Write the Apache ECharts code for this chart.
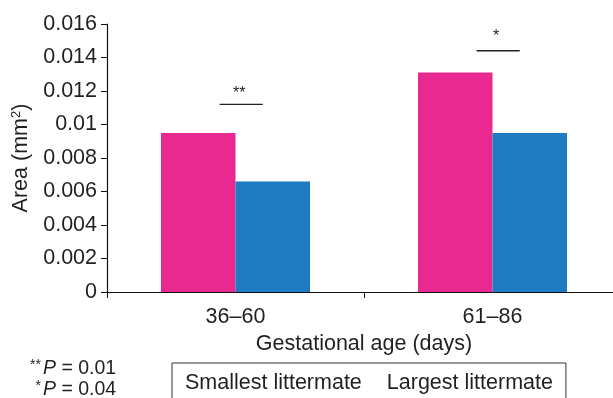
<!DOCTYPE html>
<html>
<head>
<meta charset="utf-8">
<script src="https://cdn.jsdelivr.net/npm/echarts@6/dist/echarts.min.js"></script>
<style>html,body{margin:0;padding:0;background:#fff;}#c{width:613px;height:398px;}</style>
</head>
<body>
<div id="c"></div>
<script>
const categories = ['36–60', '61–86'];
const smallest = [0.0095, 0.0131];
const largest = [0.0066, 0.0095];
const yTicks = ['0', '0.002', '0.004', '0.006', '0.008', '0.01', '0.012', '0.014', '0.016'];
const sigMarks = ['**', '*'];
const sigLevels = [0.0112, 0.0144];
const footnotes = [['**', 'P', ' = 0.01'], ['*', 'P', ' = 0.04']];

const FONT = 'Liberation Sans, Arial, Helvetica, sans-serif';
const TXT = '#231f20';
const FS = 21.5;
const chart = echarts.init(document.getElementById('c'), null, {renderer: 'canvas'});

const sigData = sigLevels.map((v, i) => [i, v, sigMarks[i]]);

const option = {
  animation: false,
  textStyle: {fontFamily: FONT, color: TXT},
  grid: {left: 107, top: 24, width: 514, height: 268, containLabel: false, outerBoundsMode: 'none'},
  legend: {
    data: ['Smallest littermate', 'Largest littermate'],
    left: 172, top: 363,
    padding: [9, 13, 40, 8],
    itemWidth: 0, itemHeight: 0, itemGap: 20,
    icon: 'rect',
    borderColor: '#333', borderWidth: 1,
    textStyle: {fontFamily: FONT, fontSize: FS, color: TXT}
  },
  xAxis: {
    type: 'category', data: categories,
    axisLine: {lineStyle: {color: '#111', width: 1.2}},
    axisTick: {show: true, length: 6, inside: false, lineStyle: {color: '#111'}},
    axisLabel: {fontFamily: FONT, fontSize: FS, color: TXT, margin: 14},
    name: 'Gestational age (days)', nameLocation: 'middle', nameGap: 40,
    nameTextStyle: {fontFamily: FONT, fontSize: FS, color: TXT}
  },
  yAxis: {
    type: 'value', min: 0, max: 0.016, interval: 0.002,
    axisLine: {show: true, lineStyle: {color: '#111', width: 1.2}},
    axisTick: {show: true, length: 6, lineStyle: {color: '#111'}},
    splitLine: {show: false},
    axisLabel: {fontFamily: FONT, fontSize: FS, color: TXT, margin: 10,
      formatter: (v, idx) => yTicks[idx]},
    name: '{n|Area (mm}{s|2}{n|)}', nameLocation: 'middle', nameGap: 74, nameRotate: 90,
    nameTextStyle: {fontFamily: FONT, fontSize: FS, color: TXT,
      rich: {n: {fontFamily: FONT, fontSize: FS, color: TXT},
             s: {fontFamily: FONT, fontSize: 13, color: TXT, verticalAlign: 'top', padding: [0, 0, 8, 0]}}}
  },
  series: [
    {name: 'Smallest littermate', type: 'bar', data: smallest, barWidth: 74.5, barGap: '0%',
     itemStyle: {color: '#E9298F'}},
    {name: 'Largest littermate', type: 'bar', data: largest, barWidth: 74.5, barGap: '0%',
     itemStyle: {color: '#1F7BC1'}},
    {type: 'custom', data: sigData, z: 10, silent: true,
     renderItem: function (params, api) {
       const p = api.coord([api.value(0), api.value(1)]);
       const bw = api.size([1, 0])[0];
       const cx = p[0] + bw * 0.022;
       const hw = bw * 0.084;
       return {type: 'group', children: [
         {type: 'line', shape: {x1: cx - hw, y1: p[1], x2: cx + hw, y2: p[1]},
          style: {stroke: '#222', lineWidth: 1.4}},
         {type: 'text', style: {text: sigData[params.dataIndex][2], x: cx - 2, y: p[1] - 3 - params.dataIndex * 3,
          align: 'center', verticalAlign: 'bottom', fontSize: 16, fontFamily: FONT, fill: TXT}}
       ]};
     }}
  ],
  graphic: footnotes.flatMap((f, i) => [
    {type: 'text', style: {text: f[0], x: 41, y: 369 + i * 21, align: 'right', verticalAlign: 'middle',
      fontSize: 14, fontFamily: FONT, fill: TXT}, position: [0, -4]},
    {type: 'text', style: {text: '{p|' + f[1] + '}{t|' + f[2] + '}', x: 43, y: 369 + i * 21, align: 'left', verticalAlign: 'middle',
      rich: {p: {fontStyle: 'italic', fontSize: 19.5, fontFamily: FONT, fill: TXT, color: TXT},
             t: {fontSize: 19.5, fontFamily: FONT, fill: TXT, color: TXT}}}}
  ])
};
chart.setOption(option);
</script>
</body>
</html>
